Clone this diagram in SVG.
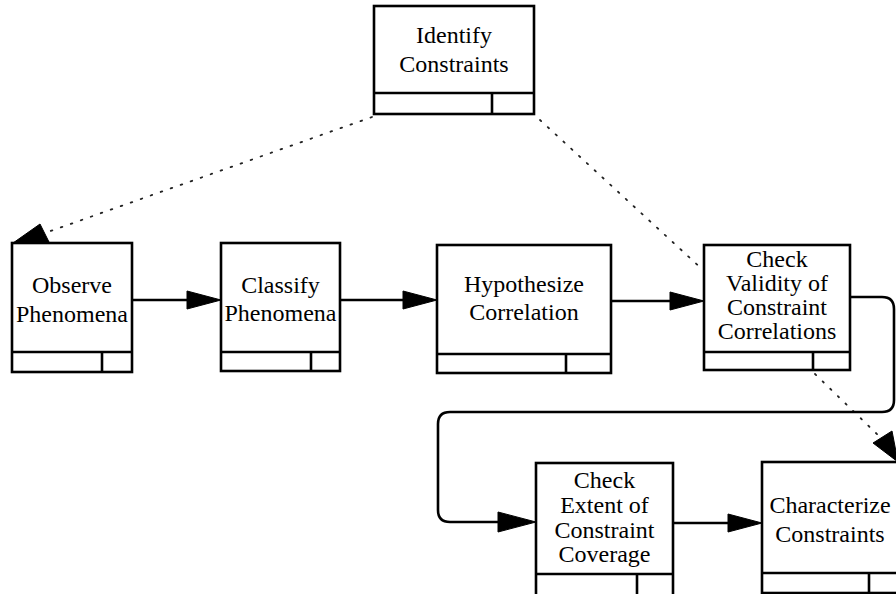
<svg xmlns="http://www.w3.org/2000/svg" width="896" height="594" viewBox="0 0 896 594">
<style>
.box{fill:#fff;stroke:#000;stroke-width:2.6}
.ln{fill:none;stroke:#000;stroke-width:2.6}
.con{fill:none;stroke:#000;stroke-width:2.6;stroke-linejoin:round}
.dot{fill:none;stroke:#222;stroke-width:1.8;stroke-dasharray:1.6 9;stroke-linecap:round}
.ah{fill:#000;stroke:#000;stroke-width:1}
text{font-family:"Liberation Serif","Times New Roman",serif;font-size:24px;fill:#000;text-anchor:middle}
</style>
<rect width="896" height="594" fill="#fff"/>
<g id="connectors">
<line class="dot" x1="372" y1="117" x2="45" y2="233"/>
<polygon class="ah" points="13,243 40,224 49,242"/>
<line class="dot" x1="540" y1="120" x2="703" y2="270"/>
<line class="dot" x1="815" y1="374" x2="880" y2="437"/>
<polygon class="ah" points="873,443 892,431 898,462"/>
<line class="con" x1="132" y1="300" x2="190" y2="300"/>
<polygon class="ah" points="187,291 221,300 187,309"/>
<line class="con" x1="340" y1="300" x2="406" y2="300"/>
<polygon class="ah" points="403,291 437,300 403,309"/>
<line class="con" x1="611" y1="301" x2="673" y2="301"/>
<polygon class="ah" points="670,292 704,301 670,310"/>
<path class="con" d="M850,297 H882 Q894,297 894,309 V400 Q894,412 882,412 H450 Q438,412 438,424 V510 Q438,522 450,522 H500"/>
<polygon class="ah" points="498,512 536,522 498,532"/>
<line class="con" x1="673" y1="523" x2="731" y2="523"/>
<polygon class="ah" points="728,514 762,523 728,532"/>
</g>
<g id="identify">
<rect class="box" x="374" y="6" width="160" height="108"/>
<line class="ln" x1="374" y1="93" x2="534" y2="93"/>
<line class="ln" x1="492" y1="93" x2="492" y2="114"/>
<text x="454" y="43">Identify</text>
<text x="454" y="72">Constraints</text>
</g>
<g id="observe">
<rect class="box" x="12" y="243" width="120" height="129"/>
<line class="ln" x1="12" y1="352" x2="132" y2="352"/>
<line class="ln" x1="102" y1="352" x2="102" y2="372"/>
<text x="72" y="293">Observe</text>
<text x="72" y="322">Phenomena</text>
</g>
<g id="classify">
<rect class="box" x="221" y="243" width="119" height="128"/>
<line class="ln" x1="221" y1="352" x2="340" y2="352"/>
<line class="ln" x1="311" y1="352" x2="311" y2="371"/>
<text x="280.5" y="293">Classify</text>
<text x="280.5" y="321">Phenomena</text>
</g>
<g id="hypothesize">
<rect class="box" x="437" y="245" width="174" height="128"/>
<line class="ln" x1="437" y1="354" x2="611" y2="354"/>
<line class="ln" x1="566" y1="354" x2="566" y2="373"/>
<text x="524" y="292">Hypothesize</text>
<text x="524" y="320">Correlation</text>
</g>
<g id="check-validity">
<rect class="box" x="704" y="245" width="146" height="125"/>
<line class="ln" x1="704" y1="352" x2="850" y2="352"/>
<line class="ln" x1="813" y1="352" x2="813" y2="370"/>
<text x="777" y="267">Check</text>
<text x="777" y="291">Validity of</text>
<text x="777" y="315">Constraint</text>
<text x="777" y="339">Correlations</text>
</g>
<g id="check-extent">
<rect class="box" x="536" y="463" width="137" height="134"/>
<line class="ln" x1="536" y1="574" x2="673" y2="574"/>
<line class="ln" x1="637" y1="574" x2="637" y2="597"/>
<text x="604.5" y="488">Check</text>
<text x="604.5" y="513">Extent of</text>
<text x="604.5" y="538">Constraint</text>
<text x="604.5" y="562">Coverage</text>
</g>
<g id="characterize">
<rect class="box" x="762" y="462" width="136" height="131"/>
<line class="ln" x1="762" y1="573" x2="898" y2="573"/>
<line class="ln" x1="869" y1="573" x2="869" y2="593"/>
<text x="830" y="513">Characterize</text>
<text x="830" y="542">Constraints</text>
</g>
</svg>
